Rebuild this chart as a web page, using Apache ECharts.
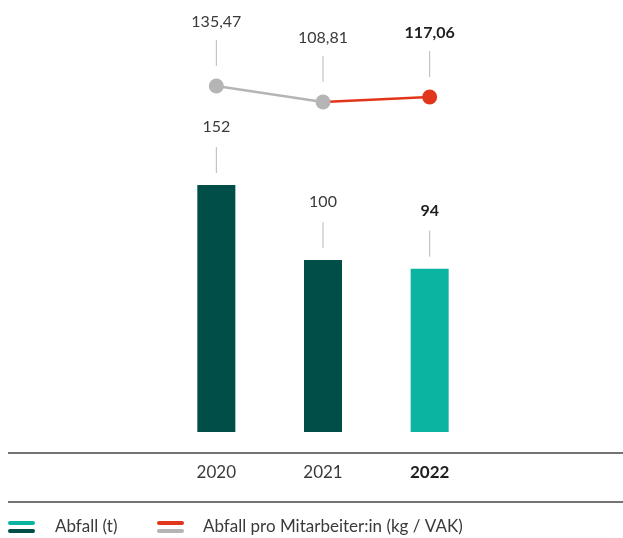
<!DOCTYPE html>
<html>

<head>
    <meta http-equiv="Content-Type" content="text/html; charset=utf-8" />
    <title>Abfall</title>
    <style type="text/css">
        * {
            margin: 0;
            padding: 0;
        }

        html,
        body {
            width: 100%;
            height: 100%;
            background: #fff;
        }
    </style>
</head>

<body>
    <div id="main" style="width: 623px;height:538px;"></div>
    <script type="text/javascript" src="https://cdn.jsdelivr.net/npm/echarts@6/dist/echarts.min.js"></script>
    <script type="text/javascript">
        // 数据
        const years = ['2020', '2021', '2022'];
        const abfall = [152, 100, 94];
        const abfallProMA = [135.47, 108.81, 117.06];
        const abfallLabels = ['152', '100', '94'];
        const proMALabels = ['135,47', '108,81', '117,06'];

        const FONT = 'Lato';
        const TEXT = '#3a3a3a';
        const BOLD = '#1e1e1e';
        const DARK = '#014d48';
        const TEAL = '#0bb3a1';
        const GRAY = '#b5b5b5';
        const RED = '#e2361b';
        const LEAD = '#b8b8b8';
        const last = years.length - 1;
        const BAR_W = 38;

        // 柱子：从网格底部画到数值
        const barItem = (params, api) => {
            const p = api.coord([api.value(0), api.value(1)]);
            const bottom = params.coordSys.y + params.coordSys.height;
            return {
                type: 'rect',
                shape: { x: p[0] - BAR_W / 2, y: p[1], width: BAR_W, height: bottom - p[1] },
                style: { fill: params.dataIndex === last ? TEAL : DARK }
            };
        };

        // 引线 + 数值标签
        const leaderItem = (labels, up1, up2, textUp) => (params, api) => {
            const i = params.dataIndex;
            const p = api.coord([api.value(0), api.value(1)]);
            return {
                type: 'group',
                children: [{
                    type: 'line',
                    shape: { x1: p[0], y1: p[1] - up2, x2: p[0], y2: p[1] - up1 },
                    style: { stroke: LEAD, lineWidth: 1 }
                }, {
                    type: 'text',
                    x: p[0],
                    y: p[1] - textUp,
                    style: {
                        text: labels[i],
                        fill: i === last ? BOLD : TEXT,
                        font: (i === last ? 'bold ' : '') + '16px ' + FONT,
                        align: 'center',
                        verticalAlign: 'middle'
                    }
                }]
            };
        };

        const myChart = echarts.init(document.getElementById('main'));
        myChart.setOption({
            animation: false,
            grid: [
                { left: 163, width: 320, top: 173.5, height: 258.5 },
                { left: 163, width: 320, top: 71.3, height: 48 }
            ],
            xAxis: [{
                gridIndex: 0,
                type: 'category',
                data: years,
                axisLine: { show: false },
                axisTick: { show: false },
                axisLabel: {
                    margin: 32,
                    fontFamily: FONT,
                    fontSize: 17,
                    color: TEXT,
                    formatter: (v, i) => i === last ? '{b|' + v + '}' : v,
                    rich: { b: { fontFamily: FONT, fontSize: 17, fontWeight: 'bold', color: BOLD } }
                }
            }, {
                gridIndex: 1,
                type: 'category',
                data: years,
                show: false
            }],
            yAxis: [{
                gridIndex: 0,
                type: 'value',
                min: -19.3,
                max: 160,
                show: false,
                splitLine: { show: false }
            }, {
                gridIndex: 1,
                type: 'value',
                min: 80,
                max: 160,
                show: false,
                splitLine: { show: false }
            }],
            series: [{
                type: 'custom',
                xAxisIndex: 0,
                yAxisIndex: 0,
                silent: true,
                renderItem: barItem,
                data: abfall.map((v, i) => [i, v])
            }, {
                type: 'custom',
                xAxisIndex: 0,
                yAxisIndex: 0,
                clip: false,
                silent: true,
                renderItem: leaderItem(abfallLabels, 12, 38, 58),
                data: abfall.map((v, i) => [i, v])
            }, {
                // 2021 -> 2022 红线
                type: 'line',
                xAxisIndex: 1,
                yAxisIndex: 1,
                data: abfallProMA.map((v, i) => i === 0 ? '-' : (i === last ? v : { value: v, symbol: 'none' })),
                symbol: 'circle',
                symbolSize: 15,
                itemStyle: { color: RED },
                lineStyle: { color: RED, width: 2.5 },
                z: 2
            }, {
                // 2020 -> 2021 灰线
                type: 'line',
                xAxisIndex: 1,
                yAxisIndex: 1,
                data: abfallProMA.map((v, i) => i === last ? '-' : v),
                symbol: 'circle',
                symbolSize: 15,
                itemStyle: { color: GRAY },
                lineStyle: { color: GRAY, width: 2.5 },
                z: 3
            }, {
                type: 'custom',
                xAxisIndex: 1,
                yAxisIndex: 1,
                clip: false,
                silent: true,
                renderItem: leaderItem(proMALabels, 20, 46, 64),
                data: abfallProMA.map((v, i) => [i, v])
            }],
            graphic: [
                // 横线
                { type: 'line', shape: { x1: 8, y1: 453, x2: 623, y2: 453 }, style: { stroke: '#444', lineWidth: 1.5 } },
                { type: 'line', shape: { x1: 8, y1: 502, x2: 623, y2: 502 }, style: { stroke: '#444', lineWidth: 1.5 } },
                // 图例
                { type: 'rect', shape: { x: 8, y: 521, width: 27, height: 4, r: 2 }, style: { fill: TEAL } },
                { type: 'rect', shape: { x: 8, y: 529, width: 27, height: 4, r: 2 }, style: { fill: DARK } },
                { type: 'text', x: 55, y: 527, style: { text: 'Abfall (t)', font: '17px ' + FONT, fill: TEXT, verticalAlign: 'middle' } },
                { type: 'rect', shape: { x: 157, y: 521, width: 27, height: 4, r: 2 }, style: { fill: RED } },
                { type: 'rect', shape: { x: 157, y: 529, width: 27, height: 4, r: 2 }, style: { fill: GRAY } },
                { type: 'text', x: 203, y: 527, style: { text: 'Abfall pro Mitarbeiter:in (kg / VAK)', font: '17px ' + FONT, fill: TEXT, verticalAlign: 'middle' } }
            ]
        });
    </script>
</body>

</html>
